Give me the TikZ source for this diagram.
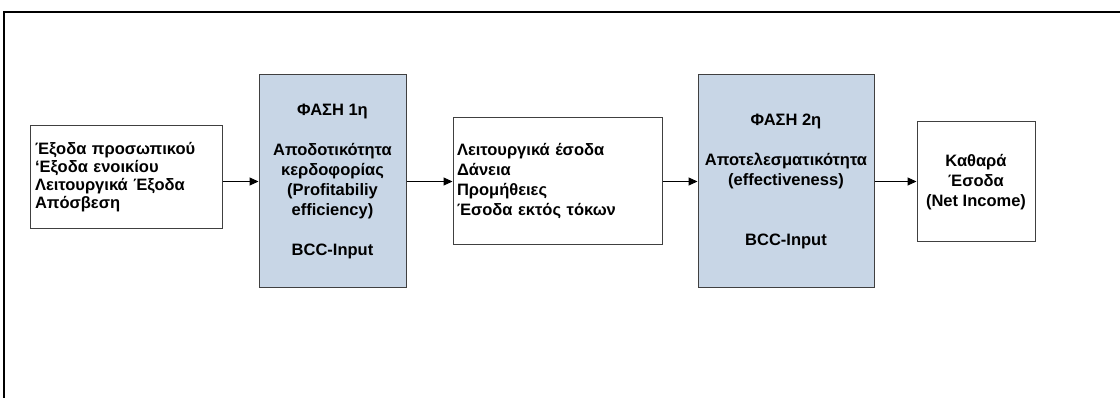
\documentclass[tikz,border=0pt]{standalone}
\usepackage{fontspec}
\setmainfont{Liberation Sans}
\usetikzlibrary{arrows.meta}
\definecolor{phasefill}{RGB}{200,214,230}
\definecolor{boxline}{RGB}{64,64,64}
\tikzset{
  box/.style={draw=boxline, line width=1pt, fill=white, inner sep=0pt, font=\bfseries\fontsize{16.5}{20}\selectfont},
  phase/.style={box, fill=phasefill, align=center},
  conn/.style={draw=black, line width=1pt, -{Triangle[length=9pt,width=8pt]}, shorten >=0pt}
}
\begin{document}
\begin{tikzpicture}[x=1pt,y=-1pt]
\useasboundingbox (0,0) rectangle (1120,398);
\draw[line width=2pt] (4,400) -- (4,12) -- (1122,12);
\node[box, minimum width=192pt, minimum height=103pt, align=left, text width=182pt, font=\bfseries\fontsize{16.5}{18}\selectfont] (b1) at (126,177.5) {Έξοδα προσωπικού\\‘Εξοδα ενοικίου\\Λειτουργικά Έξοδα\\Απόσβεση};
\node[phase, minimum width=147pt, minimum height=213pt] (b2) at (332.5,181.5) {ΦΑΣΗ 1η\\[20pt]Αποδοτικότητα\\κερδοφορίας\\(Profitabiliy\\efficiency)\\[20pt]BCC-Input};
\node[box, minimum width=209pt, minimum height=127pt, align=left, text width=201pt] (b3) at (557.5,181.5) {Λειτουργικά έσοδα\\Δάνεια\\Προμήθειες\\Έσοδα εκτός τόκων};
\node[phase, minimum width=176pt, minimum height=213pt] (b4) at (786,181.5) {ΦΑΣΗ 2η\\[20pt]Αποτελεσματικότητα\\(effectiveness)\\[40pt]BCC-Input};
\node[box, minimum width=118pt, minimum height=120pt, align=center] (b5) at (976,182) {Καθαρά\\Έσοδα\\(Net Income)};
\draw[conn] (b1.east |- b2.west) -- (b2.west);
\draw[conn] (b2.east) -- (b3.west);
\draw[conn] (b3.east) -- (b4.west);
\draw[conn] (b4.east) -- (b4.east -| b5.west);
\end{tikzpicture}
\end{document}
